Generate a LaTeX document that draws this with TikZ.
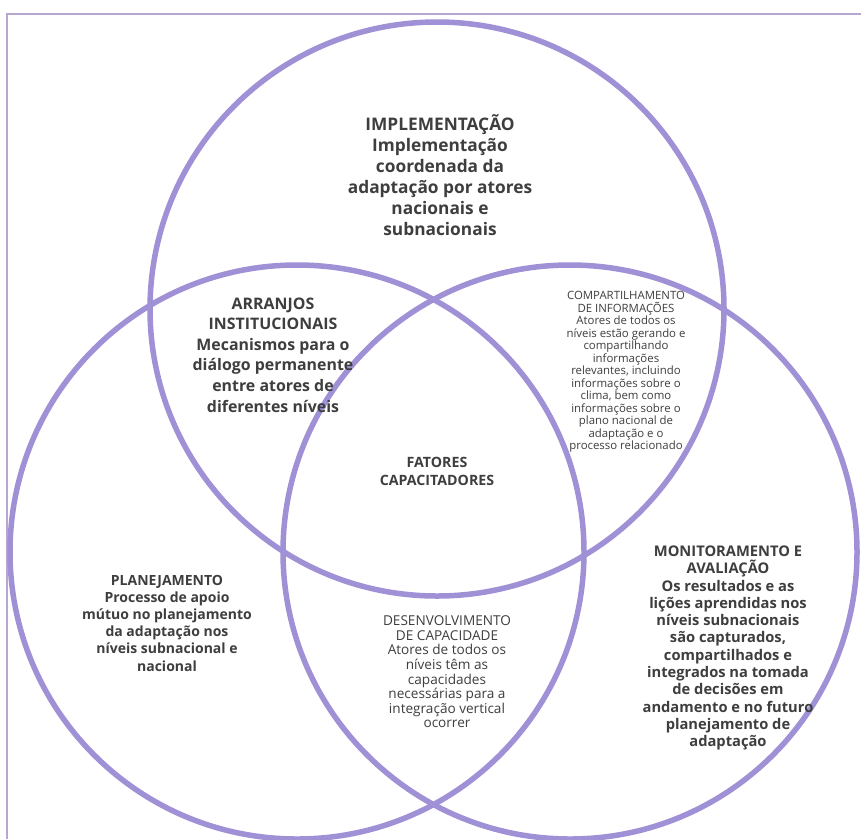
\documentclass[tikz,border=0pt]{standalone}
\usepackage{fontspec}
\setmainfont{Open Sans}
\begin{document}
\begin{tikzpicture}[x=1pt,y=-1pt,
  ring/.style={draw=ringc, line width=5.5pt},
  txtbox/.style={align=center, text=txt, inner sep=0pt},
  big/.style={txtbox, font=\bfseries\fontsize{17.3}{21}\selectfont},
  arrf/.style={txtbox, font=\bfseries\fontsize{15.9}{20.6}\selectfont},
  mid/.style={txtbox, font=\bfseries\fontsize{14}{17.2}\selectfont},
  monf/.style={txtbox, font=\bfseries\fontsize{14.7}{17.3}\selectfont},
  fatf/.style={txtbox, font=\bfseries\fontsize{14.2}{18}\selectfont},
  small/.style={txtbox, font=\fontsize{11.4}{12.5}\selectfont},
  smallb/.style={txtbox, font=\fontsize{13.6}{14.6}\selectfont}]
\definecolor{ringc}{RGB}{160,145,215}
\definecolor{framec}{RGB}{185,165,210}
\definecolor{txt}{RGB}{62,62,62}
\useasboundingbox (0,0) rectangle (861,839);
\fill[white] (0,0) rectangle (861,839);
\draw[framec, line width=2pt] (6.5,839) -- (6.5,14) -- (861,14);
\draw[ring] (437,309) circle (287);
\draw[ring] (297,552) circle (287);
\draw[ring] (570,552) circle (287);
\node[big] (impl) at (440,175) {IMPLEMENTAÇÃO\\Implementação\\coordenada da\\adaptação por atores\\nacionais e\\subnacionais};
\node[arrf] (arr) at (273,355) {ARRANJOS\\INSTITUCIONAIS\\Mecanismos para o\\diálogo permanente\\entre atores de\\diferentes níveis};
\node[small] (comp) at (626,372) {COMPARTILHAMENTO\\DE INFORMAÇÕES\\Atores de todos os\\níveis estão gerando e\\compartilhando\\informações\\relevantes, incluindo\\informações sobre o\\clima, bem como\\informações sobre o\\plano nacional de\\adaptação e o\\processo relacionado};
\node[fatf] (fat) at (437,471) {FATORES\\CAPACITADORES};
\node[mid] (plan) at (167,623) {PLANEJAMENTO\\Processo de apoio\\mútuo no planejamento\\da adaptação nos\\níveis subnacional e\\nacional};
\node[smallb] (des) at (447,672) {DESENVOLVIMENTO\\DE CAPACIDADE\\Atores de todos os\\níveis têm as\\capacidades\\necessárias para a\\integração vertical\\ocorrer};
\node[monf] (mon) at (728,648) {MONITORAMENTO E\\AVALIAÇÃO\\Os resultados e as\\lições aprendidas nos\\níveis subnacionais\\são capturados,\\compartilhados e\\integrados na tomada\\de decisões em\\andamento e no futuro\\planejamento de\\adaptação};
\end{tikzpicture}
\end{document}
